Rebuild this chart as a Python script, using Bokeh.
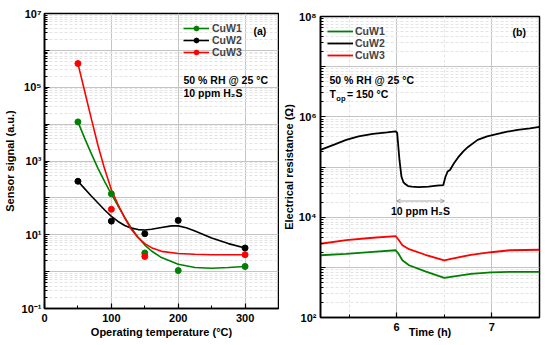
from bokeh.plotting import figure
from bokeh.layouts import row, column
from bokeh.models import FixedTicker, Legend, LegendItem, Label, Arrow, OpenHead
from bokeh.embed import file_html
from bokeh.resources import INLINE

FONT = "Liberation Sans"
GREEN, BLACK, RED = "#008000", "#000000", "#ff0000"

# ---------------- panel (a): sensor signal vs operating temperature ----------------
temp = [50, 100, 150, 200, 300]
cuw1_signal = [1.15e4, 129, 3.2, 1.07, 1.38]
cuw2_signal = [282, 23.4, 10.7, 24.5, 4.37]
cuw3_temp = [50, 100, 150, 300]
cuw3_signal = [4.4e5, 49, 2.57, 2.88]

fit_temp = [50, 60, 70, 80, 90, 100, 110, 120, 130, 140, 150, 160, 175, 200, 225, 250, 275, 300]
cuw1_fit = [1.15e4, 4170, 1580, 631, 275, 126, 60.3, 29.5, 15.1, 8.51, 5.25, 3.63, 2.40, 1.58, 1.29, 1.23, 1.29, 1.38]
cuw3_fit = [4.37e5, 7.94e4, 1.41e4, 2630, 603, 166, 66.1, 28.2, 13.8, 8.32, 5.75, 4.47, 3.55, 3.09, 2.95, 2.88, 2.88, 2.88]
cuw2_fit_temp = [50, 60, 70, 80, 90, 100, 110, 120, 130, 140, 150, 160, 175, 190, 200, 212, 225, 250, 275, 300]
cuw2_fit = [282, 178, 112, 72.4, 46.8, 31.6, 22.9, 17.8, 15.1, 13.8, 13.5, 14.1, 15.8, 17.4, 17.4, 15.5, 12.6, 8.13, 5.75, 4.37]

a_xticks = [0, 100, 200, 300]
a_xminor = [50, 150, 250]
a_decades = [0.1, 1, 10, 100, 1e3, 1e4, 1e5, 1e6, 1e7]
a_ylabels = {0.1: "10\u207b\u00b9", 1: "", 10: "10\u00b9", 100: "", 1e3: "10\u00b3",
             1e4: "", 1e5: "10\u2075", 1e6: "", 1e7: "10\u2077"}

# ---------------- panel (b): electrical resistance vs time ----------------
time_cuw2 = [5.2, 5.35, 5.47, 5.6, 5.75, 5.9, 5.99, 6.005, 6.03, 6.05, 6.07, 6.09, 6.12, 6.16, 6.23,
             6.335, 6.42, 6.49, 6.51, 6.535, 6.56, 6.6, 6.645, 6.7, 6.75, 6.85, 6.95, 7.06, 7.15, 7.27, 7.4, 7.5]
res_cuw2 = [2.19e5, 2.82e5, 3.47e5, 4.07e5, 4.57e5, 4.90e5, 5.13e5, 4.79e5, 1.35e5, 6.46e4, 5.01e4, 4.57e4,
            4.17e4, 4.07e4, 3.98e4, 4.07e4, 4.27e4, 4.37e4, 6.17e4, 8.13e4, 8.71e4, 1.17e5, 1.55e5, 2.04e5,
            2.51e5, 3.47e5, 4.07e5, 4.57e5, 5.01e5, 5.50e5, 5.89e5, 6.31e5]
time_cuw13 = [5.2, 5.47, 5.75, 5.99, 6.02, 6.06, 6.13, 6.3, 6.5, 6.57, 6.78, 6.99, 7.19, 7.5]
res_cuw3 = [2950, 3470, 3890, 4170, 3550, 2750, 2300, 1780, 1380, 1480, 1780, 2000, 2190, 2240]
res_cuw1 = [1740, 1860, 2040, 2190, 1860, 1380, 1100, 832, 617, 646, 741, 794, 813, 813]

exposure_start, exposure_end = 6.0, 6.5
b_xticks = [6, 7]
b_xminor = [5.5, 6.5, 7.5]
b_decades = [1e2, 1e3, 1e4, 1e5, 1e6, 1e7, 1e8]
b_ylabels = {1e2: "10\u00b2", 1e3: "", 1e4: "10\u2074", 1e5: "", 1e6: "10\u2076", 1e7: "", 1e8: "10\u2078"}


def minor_positions(decades):
    return [k * d for d in decades[:-1] for k in range(2, 10)]


def style(p):
    for ax in p.axis:
        ax.axis_line_width = 1.6
        ax.axis_line_color = "black"
        ax.major_tick_in = 5
        ax.major_tick_out = 0
        ax.minor_tick_in = 3
        ax.minor_tick_out = 0
        ax.major_tick_line_width = 1.2
        ax.major_tick_line_color = "black"
        ax.minor_tick_line_color = "black"
        ax.major_label_text_font = FONT
        ax.major_label_text_font_style = "bold"
        ax.major_label_text_font_size = "11px"
        ax.major_label_text_color = "black"
        ax.axis_label_text_font = FONT
        ax.axis_label_text_font_style = "bold"
        ax.axis_label_text_font_size = "11px"
        ax.axis_label_text_color = "black"
    p.outline_line_color = "black"
    p.outline_line_width = 1.5
    p.ygrid.grid_line_color = "#c4c4c4"
    p.ygrid.grid_line_width = 1
    p.ygrid.minor_grid_line_color = "#e4e4e4"
    p.ygrid.minor_grid_line_dash = "3 2"
    p.xgrid.grid_line_color = "#c4c4c4"


def label(p, text, x, y, size="10.5px", **kw):
    p.add_layout(Label(x=x, y=y, x_units="screen", y_units="screen", text=text,
                       text_font=FONT, text_font_style="bold", text_font_size=size,
                       text_baseline="middle", text_color="black", **kw))


# ---------------- figure (a) ----------------
H1 = 345 - 13 - 37  # frame height
p1 = figure(width=279, height=345, y_axis_type="log", x_range=(0, 350), y_range=(0.1, 1e7),
            output_backend="svg", toolbar_location=None,
            min_border_left=43, min_border_right=1, min_border_top=13, min_border_bottom=37)
style(p1)
p1.xaxis.ticker = FixedTicker(ticks=a_xticks, minor_ticks=a_xminor)
p1.yaxis.ticker = FixedTicker(ticks=a_decades, minor_ticks=minor_positions(a_decades))
p1.yaxis.major_label_overrides = a_ylabels
p1.xgrid.ticker = FixedTicker(ticks=a_xticks[1:])
p1.ygrid.ticker = FixedTicker(ticks=a_decades, minor_ticks=minor_positions(a_decades))
p1.xaxis.axis_label = "Operating temperature (\u00b0C)"
p1.yaxis.axis_label = "Sensor signal (a.u.)"
p1.xaxis.major_label_standoff = 5
p1.xaxis.axis_label_standoff = 1
p1.yaxis.major_label_standoff = 3
p1.yaxis.axis_label_standoff = 3

l1 = p1.line(fit_temp, cuw1_fit, line_color=GREEN, line_width=1.6)
l2 = p1.line(cuw2_fit_temp, cuw2_fit, line_color=BLACK, line_width=1.6)
l3 = p1.line(fit_temp, cuw3_fit, line_color=RED, line_width=1.6)
s2 = p1.scatter(temp, cuw2_signal, size=6, color=BLACK)
s1 = p1.scatter(temp, cuw1_signal, size=6, color=GREEN)
s3 = p1.scatter(cuw3_temp, cuw3_signal, size=6, color=RED)

leg1 = Legend(items=[LegendItem(label="CuW1", renderers=[l1, s1]),
                     LegendItem(label="CuW2", renderers=[l2, s2]),
                     LegendItem(label="CuW3", renderers=[l3, s3])],
              location=(139, H1 - 3 - 42), glyph_width=26, glyph_height=12, label_height=12,
              spacing=0, padding=0, margin=0, label_standoff=3,
              label_text_font=FONT, label_text_font_style="bold", label_text_font_size="10.5px",
              border_line_color=None, background_fill_alpha=0)
p1.add_layout(leg1)

label(p1, "(a)", 209, H1 - 17)
label(p1, "50 % RH @ 25 \u00b0C", 139, H1 - 66.5)
label(p1, "10 ppm H\u2082S", 139, H1 - 79.5)

# ---------------- figure (b) ----------------
H2 = 345 - 16 - 28
p2 = figure(width=271, height=345, y_axis_type="log", x_range=(5.2, 7.5), y_range=(1e2, 1e8),
            output_backend="svg", toolbar_location=None,
            min_border_left=39, min_border_right=11, min_border_top=16, min_border_bottom=28)
style(p2)
p2.xaxis.ticker = FixedTicker(ticks=b_xticks, minor_ticks=b_xminor)
p2.yaxis.ticker = FixedTicker(ticks=b_decades, minor_ticks=minor_positions(b_decades))
p2.yaxis.major_label_overrides = b_ylabels
p2.xgrid.ticker = FixedTicker(ticks=b_xticks, minor_ticks=b_xminor[:2])
p2.xgrid.minor_grid_line_color = "#e4e4e4"
p2.xgrid.minor_grid_line_dash = "3 2"
p2.ygrid.ticker = FixedTicker(ticks=b_decades, minor_ticks=minor_positions(b_decades))
p2.xaxis.axis_label = "Time (h)"
p2.yaxis.axis_label = "Electrical resistance (\u03a9)"
p2.xaxis.major_label_standoff = 5
p2.xaxis.axis_label_standoff = -8
p2.yaxis.major_label_standoff = 4
p2.yaxis.axis_label_standoff = 1

m1 = p2.line(time_cuw13, res_cuw1, line_color=GREEN, line_width=1.8)
m2 = p2.line(time_cuw2, res_cuw2, line_color=BLACK, line_width=1.8)
m3 = p2.line(time_cuw13, res_cuw3, line_color=RED, line_width=1.8)

leg2 = Legend(items=[LegendItem(label="CuW1", renderers=[m1]),
                     LegendItem(label="CuW2", renderers=[m2]),
                     LegendItem(label="CuW3", renderers=[m3])],
              location=(7, H2 - 3 - 42), glyph_width=26, glyph_height=12, label_height=12,
              spacing=0, padding=0, margin=0, label_standoff=2,
              label_text_font=FONT, label_text_font_style="bold", label_text_font_size="10.5px",
              border_line_color=None, background_fill_alpha=0)
p2.add_layout(leg2)

p2.add_layout(Arrow(x_start=exposure_start, x_end=exposure_end, y_start=2.1e4, y_end=2.1e4,
                    line_color="#909090", line_width=0.8,
                    start=OpenHead(size=4, line_color="#909090", line_width=0.8),
                    end=OpenHead(size=4, line_color="#909090", line_width=0.8)))
p2.add_layout(Label(x=(exposure_start + exposure_end) / 2, y=1.3e4, text="10 ppm H\u2082S",
                    text_font=FONT, text_font_style="bold", text_font_size="10.5px",
                    text_align="center", text_baseline="middle", text_color="black"))

label(p2, "(b)", 192, H2 - 15)
label(p2, "50 % RH @ 25 \u00b0C", 9, H2 - 63)
label(p2, "T", 9, H2 - 77.5)
label(p2, "op", 15.8, H2 - 81.5, size="7.5px")
label(p2, "= 150 \u00b0C", 26.5, H2 - 77.5)

layout = row(column(p1), column(p2))
open("out.html", "w").write(file_html(layout, INLINE))
